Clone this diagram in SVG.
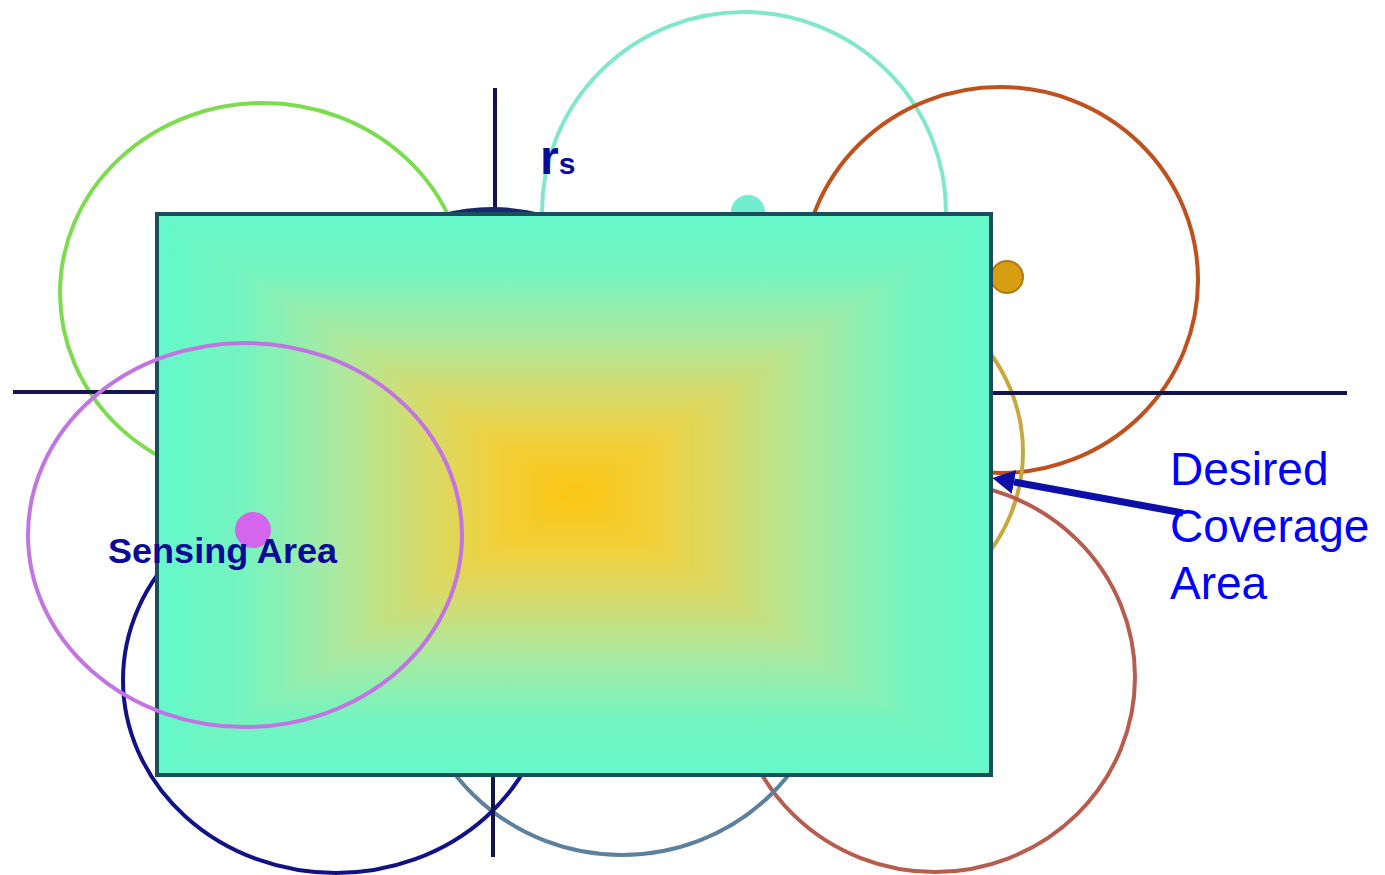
<svg xmlns="http://www.w3.org/2000/svg" width="1385" height="875" viewBox="0 0 1385 875">
<style>
.ring{fill:none;stroke-width:4}
.axis{stroke:#14144e;stroke-width:4;fill:none}
.lbl{font-family:"Liberation Sans",Arial,sans-serif;font-weight:bold;fill:#0a0a96}
.blue{font-family:"Liberation Sans",Arial,sans-serif;font-size:46px;fill:#0000ff}
</style>
<defs>
<linearGradient id="base">
<stop offset="0" stop-color="#64f8ca"/>
<stop offset="0.2" stop-color="#74f4c0"/>
<stop offset="0.42" stop-color="#a8eaa2"/>
<stop offset="0.62" stop-color="#d4dc70"/>
<stop offset="0.82" stop-color="#f2cf38"/>
<stop offset="1" stop-color="#fcc612"/>
</linearGradient>
<linearGradient id="gl" href="#base" x1="0" y1="0" x2="1" y2="0"/>
<linearGradient id="gr" href="#base" x1="1" y1="0" x2="0" y2="0"/>
<linearGradient id="gt" href="#base" x1="0" y1="0" x2="0" y2="1"/>
<linearGradient id="gb" href="#base" x1="0" y1="1" x2="0" y2="0"/>
<marker id="ah" viewBox="0 0 22 24" refX="0" refY="12" markerWidth="22" markerHeight="24" orient="auto" markerUnits="userSpaceOnUse">
<path d="M0,0 L22,12 L0,24 Z" fill="#0e0ea8"/>
</marker>
</defs>
<rect width="1385" height="875" fill="#ffffff"/>
<g id="sensors">
<ellipse id="green" class="ring" cx="263" cy="293" rx="203" ry="190" stroke="#7ddc4e"/>
<ellipse id="cyan" class="ring" cx="744" cy="212" rx="202" ry="200" stroke="#80e6cc"/>
<circle cx="748" cy="212" r="17" fill="#74ecd0"/>
<ellipse id="rust" class="ring" cx="1000" cy="280" rx="198" ry="193" stroke="#c0501e"/>
<circle cx="1007" cy="277" r="16" fill="#d89e12" stroke="#b07a12" stroke-width="2"/>
<ellipse id="gold" class="ring" cx="835" cy="452" rx="188" ry="175" stroke="#c6a83e"/>
<ellipse id="brownred" class="ring" cx="935" cy="677" rx="200" ry="195" stroke="#b85c4e"/>
<ellipse id="steel" class="ring" cx="622" cy="650" rx="210" ry="205" stroke="#5c809e"/>
<ellipse id="navy" class="ring" cx="336" cy="680" rx="213" ry="193" stroke="#121288"/>
</g>
<g id="axes">
<line class="axis" x1="13" y1="392" x2="157" y2="392"/>
<line class="axis" x1="991" y1="393" x2="1347" y2="393"/>
<line class="axis" x1="495" y1="88" x2="495" y2="214"/>
<line class="axis" x1="493" y1="775" x2="493" y2="857"/>
<path d="M440,214 Q492,200 545,214 Z" fill="#1a2670"/>
</g>
<g id="area">
<rect x="157" y="214" width="834" height="561" fill="#a8eaa2"/>
<polygon points="157,214 575,495 157,775" fill="url(#gl)"/>
<polygon points="991,214 575,495 991,775" fill="url(#gr)"/>
<polygon points="157,214 991,214 575,495" fill="url(#gt)"/>
<polygon points="157,775 991,775 575,495" fill="url(#gb)"/>
<rect x="157" y="214" width="834" height="561" fill="none" stroke="#1b4e5c" stroke-width="4"/>
</g>
<g id="sensing">
<ellipse class="ring" cx="245" cy="535" rx="217" ry="192" stroke="#c274e2"/>
<circle cx="253" cy="530" r="18" fill="#d466ee"/>
<text class="lbl" x="108" y="563" font-size="35" textLength="229" lengthAdjust="spacingAndGlyphs">Sensing Area</text>
</g>
<g id="rs-label">
<text class="lbl" x="540" y="174" font-size="48">r<tspan font-size="30">s</tspan></text>
</g>
<g id="connectors">
<line x1="1183" y1="513" x2="1014" y2="482" stroke="#0e0ea8" stroke-width="7" marker-end="url(#ah)"/>
</g>
<g id="desired">
<text class="blue" x="1170" y="485">Desired</text>
<text class="blue" x="1170" y="542">Coverage</text>
<text class="blue" x="1170" y="599">Area</text>
</g>
</svg>
